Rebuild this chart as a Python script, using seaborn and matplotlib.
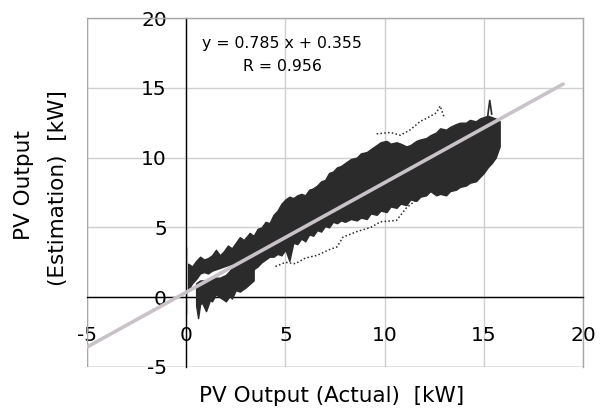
import matplotlib
matplotlib.use("Agg")
import matplotlib.pyplot as plt
import seaborn as sns

# ---- data ----
# main dense band of (actual, estimation) points: x, upper edge, lower edge
band_x = [3.2, 3.4, 3.6, 3.8, 4.0, 4.2, 4.4, 4.6, 4.8, 5.0, 5.2, 5.4, 5.6, 5.8, 6.0,
          6.2, 6.4, 6.6, 6.8, 7.0, 7.2, 7.4, 7.6, 7.8, 8.0, 8.3, 8.6, 8.8, 9.1, 9.3,
          9.6, 9.8, 10.1, 10.3, 10.6, 10.8, 11.1, 11.3, 11.6, 11.8, 12.1, 12.3, 12.6,
          12.8, 13.1, 13.3, 13.6, 13.8, 14.1, 14.3, 14.6, 14.8, 15.0, 15.2, 15.4, 15.6, 15.8]
band_hi = [4.6, 4.4, 4.9, 5.0, 5.4, 5.3, 5.9, 6.2, 6.7, 7.0, 7.2, 7.1, 7.3, 7.4, 7.3,
           7.7, 7.8, 8.0, 8.3, 8.4, 8.9, 9.0, 9.3, 9.4, 9.6, 9.9, 10.0, 10.3, 10.4, 10.6,
           10.9, 11.1, 11.2, 11.0, 11.1, 11.0, 10.8, 10.9, 11.2, 11.3, 11.4, 11.6, 11.8,
           12.1, 12.0, 12.2, 12.4, 12.5, 12.5, 12.7, 12.6, 12.8, 12.9, 13.0, 12.9, 12.8, 12.6]
band_lo = [1.7, 2.0, 2.2, 2.5, 2.7, 2.9, 2.9, 3.1, 3.0, 3.4, 2.6, 3.9, 3.8, 4.2, 4.0,
           4.5, 4.4, 4.8, 4.7, 5.1, 5.0, 5.4, 5.3, 5.5, 5.4, 5.6, 5.5, 5.7, 5.6, 6.0,
           5.9, 6.2, 6.1, 6.5, 6.4, 6.7, 6.6, 7.0, 6.9, 7.2, 7.3, 7.6, 7.3, 7.4, 7.3,
           7.6, 7.7, 7.9, 8.0, 8.2, 8.3, 8.6, 8.9, 9.3, 9.6, 10.0, 10.8]

# low-power upper strand
stra_x = [0.1, 0.3, 0.5, 0.7, 0.9, 1.1, 1.3, 1.5, 1.7, 1.9, 2.1, 2.3, 2.5, 2.7, 2.9, 3.2]
stra_hi = [2.4, 2.2, 2.6, 2.9, 2.7, 2.8, 3.0, 3.4, 3.0, 3.3, 3.7, 3.5, 3.9, 4.3, 4.1, 4.6]
stra_lo = [0.5, 1.0, 1.3, 1.7, 1.8, 1.7, 1.9, 2.0, 2.1, 2.2, 2.3, 2.4, 2.4, 2.5, 2.6, 2.6]

# low-power lower strand
strb_x = [0.5, 0.6, 0.7, 0.8, 1.0, 1.2, 1.3, 1.5, 1.7, 2.0, 2.2, 2.3, 2.5, 2.7, 3.0, 3.4]
strb_hi = [1.0, 1.1, 1.2, 1.2, 1.2, 1.3, 1.3, 1.4, 1.4, 1.6, 1.9, 2.2, 2.4, 2.6, 2.8, 3.0]
strb_lo = [-0.6, -1.5, -0.5, -0.4, -1.0, -0.2, -0.3, 0.2, 0.0, -0.3, 0.1, -0.1, 0.5, 0.4, 0.7, 1.2]

# sparse traces outside the dense band
low_trace_x = [4.5, 5.0, 5.5, 6.0, 6.6, 7.2, 7.6, 7.9, 8.6, 9.3, 9.8, 10.6, 11.1, 11.8]
low_trace_y = [2.2, 2.5, 2.4, 2.8, 3.0, 3.4, 3.6, 4.3, 4.7, 5.0, 5.4, 5.5, 6.4, 7.2]
up_trace_x = [9.6, 10.3, 10.8, 11.3, 11.8, 12.1, 12.6, 12.8, 13.0]
up_trace_y = [11.7, 11.8, 11.6, 12.0, 12.6, 12.8, 13.2, 13.7, 12.9]
spike_x = [15.2, 15.3, 15.4]
spike_y = [13.0, 14.1, 13.1]
zero_spike_x = [0.05, 0.05]
zero_spike_y = [-1.2, 3.6]

# regression
fit_slope = 0.785
fit_intercept = 0.355
fit_r = 0.956
fit_x = [-5, 19]

ticks = [-5, 0, 5, 10, 15, 20]

# ---- figure ----
sns.set_theme(style="white")
plt.rcParams["font.family"] = ["DejaVu Sans"]
plt.rcParams["text.color"] = "black"
plt.rcParams["xtick.color"] = "black"
plt.rcParams["ytick.color"] = "black"

fig = plt.figure(figsize=(6.01, 4.08), dpi=100)
ax = fig.add_axes([87 / 601, 1 - 367 / 408, (583 - 87) / 601, (367 - 18) / 408])

ax.set_xlim(-5, 20)
ax.set_ylim(-5, 20)

dark = "#2b2b2b"
for xs, lo, hi in [(band_x, band_lo, band_hi), (stra_x, stra_lo, stra_hi),
                   (strb_x, strb_lo, strb_hi)]:
    ax.fill_between(xs, lo, hi, color=dark, lw=1.0, edgecolor=dark, zorder=3)

sns.lineplot(x=low_trace_x, y=low_trace_y, sort=False, ax=ax, color=dark,
             lw=1.1, linestyle=(0, (1, 1.5)), zorder=3)
sns.lineplot(x=up_trace_x, y=up_trace_y, sort=False, ax=ax, color=dark,
             lw=1.1, linestyle=(0, (1, 1.5)), zorder=3)
sns.lineplot(x=spike_x, y=spike_y, sort=False, ax=ax, color=dark, lw=1.2, zorder=3)
sns.lineplot(x=zero_spike_x, y=zero_spike_y, sort=False, ax=ax, color=dark, lw=2.0, zorder=3)

fit_y = [fit_slope * v + fit_intercept for v in fit_x]
sns.lineplot(x=fit_x, y=fit_y, ax=ax, color="#c9c3c9", lw=2.6, zorder=5)

# grid and frame
ax.set_xticks(ticks)
ax.set_yticks(ticks)
ax.grid(True, color="#cfcfcf", lw=1.0, zorder=0)
ax.set_axisbelow(True)

for side in ["top", "right"]:
    ax.spines[side].set_color("#a8a8a8")
    ax.spines[side].set_linewidth(1.0)
ax.spines["left"].set_position(("data", 0))
ax.spines["bottom"].set_position(("data", 0))
for side in ["left", "bottom"]:
    ax.spines[side].set_color("black")
    ax.spines[side].set_linewidth(1.0)
ax.axvline(-5, color="#a8a8a8", lw=1.0, zorder=1)
ax.axhline(-5, color="#a8a8a8", lw=1.0, zorder=1)

ax.tick_params(axis="y", direction="in", length=7, width=1, colors="black",
               labelsize=14.5, pad=14)
ax.tick_params(axis="x", direction="in", length=7, width=1, colors="black",
               labelsize=14.5, pad=21)
ax.set_xticklabels([str(t) for t in ticks])
ax.set_yticklabels([str(t) for t in ticks])
ax.set_xlabel("")
ax.set_ylabel("")

ax.text(4.84, 18.2, f"y = {fit_slope} x + {fit_intercept}", ha="center", va="center",
        fontsize=11.3, color="black", zorder=6)
ax.text(4.84, 16.55, f"R = {fit_r}", ha="center", va="center", fontsize=11.3,
        color="black", zorder=6)

fig.text(332 / 601, 1 - 396 / 408, "PV Output (Actual)  [kW]", ha="center", va="center",
         fontsize=15.5, color="black")
fig.text(24 / 601, 1 - 185 / 408, "PV Output", ha="center", va="center",
         rotation=90, fontsize=15.5, color="black")
fig.text(58 / 601, 1 - 188 / 408, "(Estimation)  [kW]", ha="center", va="center",
         rotation=90, fontsize=15.5, color="black")

fig.savefig("out.png", dpi=100)
